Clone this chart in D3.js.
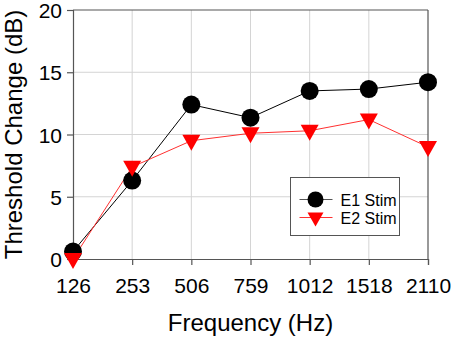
<!DOCTYPE html>
<html>
<head>
<meta charset="utf-8">
<script src="https://cdn.jsdelivr.net/npm/d3@7"></script>
<style>
  body { margin: 0; background: #fff; }
  text { font-family: "Liberation Sans", Arial, sans-serif; fill: #000; }
</style>
</head>
<body>
<div id="chart"></div>
<script>
// chart data
let frequencies = ["126", "253", "506", "759", "1012", "1518", "2110"];
let e1Values = [0.6, 6.3, 12.4, 11.35, 13.5, 13.65, 14.2];
let e2Values = [0.0, 7.4, 9.5, 10.1, 10.3, 11.2, 9.0];
let yTicks = [0, 5, 10, 15, 20];
let seriesNames = ["E1 Stim", "E2 Stim"];

let margin = {top: 10, right: 26, bottom: 80, left: 73};
let width = 454 - margin.left - margin.right;
let height = 339 - margin.top - margin.bottom;

let svg = d3.select("#chart").append("svg")
    .attr("width", 454)
    .attr("height", 339)
    .append("g")
    .attr("transform", `translate(${margin.left}, ${margin.top})`);

let x = d3.scalePoint()
    .domain(frequencies)
    .range([0, width]);

let y = d3.scaleLinear()
    .domain([0, 20])
    .range([height, 0]);

// grid
svg.append("g").selectAll("line.vgrid")
    .data(frequencies.slice(1, -1))
    .enter().append("line")
    .attr("x1", d => x(d)).attr("x2", d => x(d))
    .attr("y1", 0).attr("y2", height)
    .attr("stroke", "#d4d4d4").attr("stroke-width", 1);

svg.append("g").selectAll("line.hgrid")
    .data(yTicks.slice(1, -1))
    .enter().append("line")
    .attr("x1", 0).attr("x2", width)
    .attr("y1", d => y(d)).attr("y2", d => y(d))
    .attr("stroke", "#d4d4d4").attr("stroke-width", 1);

// frame top and right
svg.append("line").attr("x1", 0).attr("x2", width).attr("y1", 0).attr("y2", 0)
    .attr("stroke", "#555").attr("stroke-width", 1.2);
svg.append("line").attr("x1", width).attr("x2", width).attr("y1", 0).attr("y2", height)
    .attr("stroke", "#555").attr("stroke-width", 1.2);

// axes
let xAxis = d3.axisBottom(x).tickSize(6).tickPadding(13);
let yAxis = d3.axisLeft(y).tickValues(yTicks).tickSize(6).tickPadding(5);

let xAxisGroup = svg.append("g")
    .attr("transform", `translate(0, ${height})`)
    .call(xAxis);
let yAxisGroup = svg.append("g").call(yAxis);

[xAxisGroup, yAxisGroup].forEach(g => {
    g.select(".domain").attr("stroke", "#555").attr("stroke-width", 1.2);
    g.selectAll(".tick line").attr("stroke", "#555").attr("stroke-width", 1.2);
    g.selectAll(".tick text")
        .style("font-size", "21px")
        .style("font-family", "'Liberation Sans', Arial, sans-serif")
        .attr("fill", "#000");
});
yAxisGroup.selectAll(".tick text").attr("dy", "0.36em");

// axis titles
svg.append("text")
    .attr("x", width / 2)
    .attr("y", height + 72)
    .attr("text-anchor", "middle")
    .style("font-size", "24px")
    .text("Frequency (Hz)");

svg.append("text")
    .attr("transform", `translate(${-51}, ${height / 2}) rotate(-90)`)
    .attr("text-anchor", "middle")
    .style("font-size", "24px")
    .text("Threshold Change (dB)");

// lines
let line = d3.line()
    .x((d, i) => x(frequencies[i]))
    .y(d => y(d));

svg.append("path")
    .datum(e1Values)
    .attr("d", line)
    .attr("fill", "none")
    .attr("stroke", "#000")
    .attr("stroke-width", 1);

svg.append("path")
    .datum(e2Values)
    .attr("d", line)
    .attr("fill", "none")
    .attr("stroke", "#ff3030")
    .attr("stroke-width", 1);

let triangle = "M-9,-6L9,-6L0,10Z";

// markers
svg.append("g").selectAll("circle")
    .data(e1Values)
    .enter().append("circle")
    .attr("cx", (d, i) => x(frequencies[i]))
    .attr("cy", d => y(d))
    .attr("r", 9)
    .attr("fill", "#000");

svg.append("g").selectAll("path.tri")
    .data(e2Values)
    .enter().append("path")
    .attr("d", triangle)
    .attr("transform", (d, i) => `translate(${x(frequencies[i])}, ${y(d)})`)
    .attr("fill", "#ff0000");

// legend
let legend = svg.append("g")
    .attr("transform", `translate(${290.5 - margin.left}, ${177.5 - margin.top})`);

legend.append("rect")
    .attr("width", 109)
    .attr("height", 58)
    .attr("fill", "#fff")
    .attr("stroke", "#555")
    .attr("stroke-width", 1);

legend.append("line")
    .attr("x1", 9).attr("x2", 42).attr("y1", 22).attr("y2", 22)
    .attr("stroke", "#555").attr("stroke-width", 1);
legend.append("circle")
    .attr("cx", 25).attr("cy", 22).attr("r", 8).attr("fill", "#000");
legend.append("text")
    .attr("x", 50).attr("y", 28)
    .style("font-size", "16px")
    .text(seriesNames[0]);

legend.append("line")
    .attr("x1", 9).attr("x2", 42).attr("y1", 40).attr("y2", 40)
    .attr("stroke", "#ff3030").attr("stroke-width", 1);
legend.append("path")
    .attr("d", "M-8,-5L8,-5L0,9Z")
    .attr("transform", "translate(25, 40)")
    .attr("fill", "#ff0000");
legend.append("text")
    .attr("x", 50).attr("y", 46)
    .style("font-size", "16px")
    .text(seriesNames[1]);
</script>
</body>
</html>
